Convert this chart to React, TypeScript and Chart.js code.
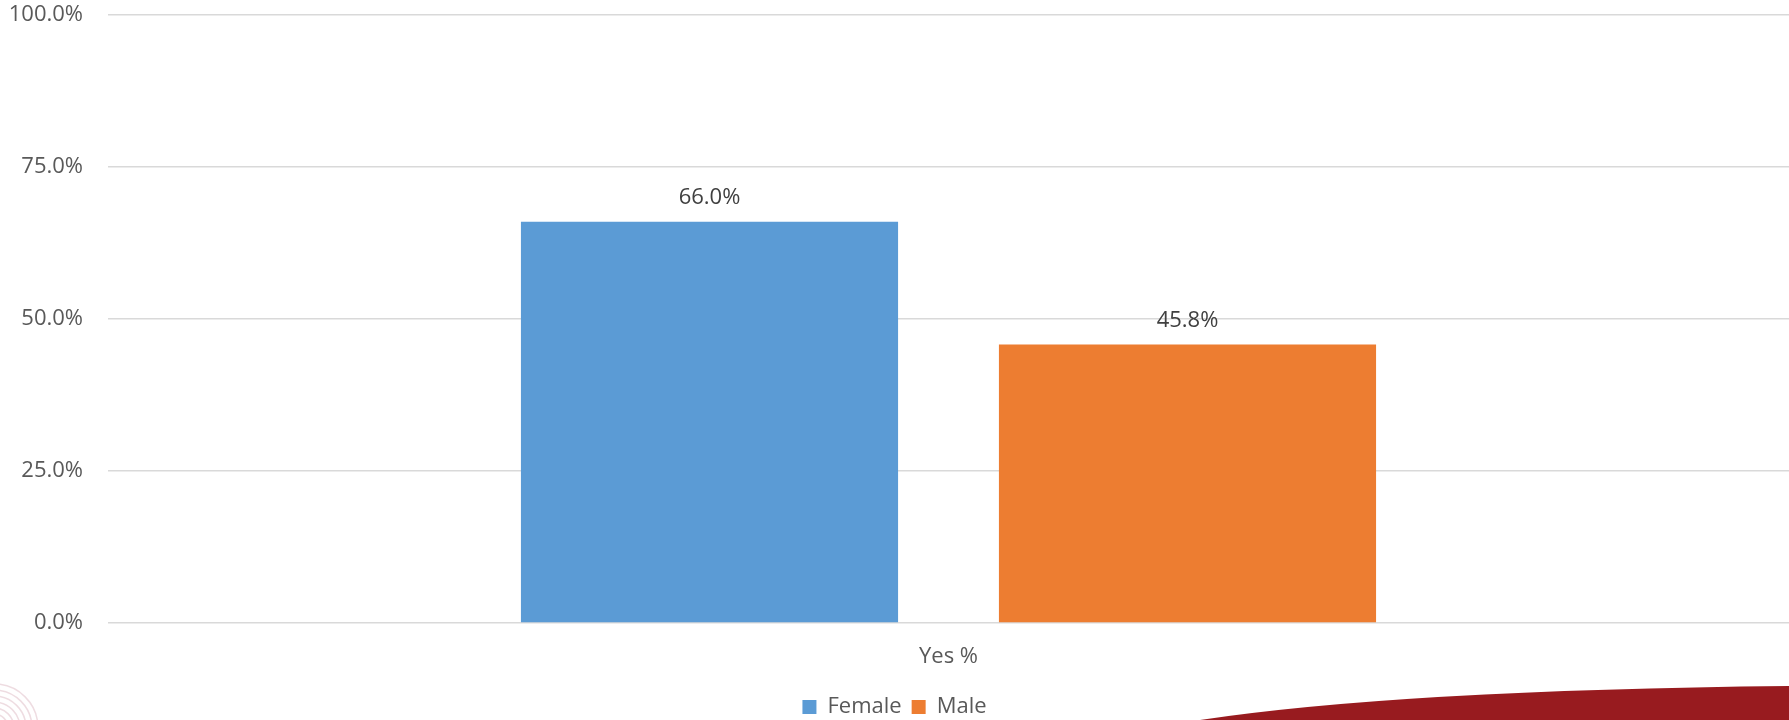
import React, { useEffect, useRef } from "react";
import { Chart, registerables } from "chart.js";

Chart.register(...registerables);

const categories = ["Yes %"];
const seriesNames = ["Female", "Male"];
const femaleValues = [0.66];
const maleValues = [0.458];
const seriesColors = ["#5B9BD5", "#ED7D31"];
const yTicks = [0, 0.25, 0.5, 0.75, 1];

const FONT = "'Open Sans', sans-serif";

const fmtPct = (v: number) => (v * 100).toFixed(1) + "%";

const dataLabelPlugin = {
  id: "dataLabels",
  afterDatasetsDraw(chart: any) {
    const ctx = chart.ctx;
    ctx.save();
    ctx.font = `22px ${FONT}`;
    ctx.fillStyle = "#404040";
    ctx.textAlign = "center";
    ctx.textBaseline = "middle";
    chart.data.datasets.forEach((ds: any, i: number) => {
      const meta = chart.getDatasetMeta(i);
      meta.data.forEach((bar: any, j: number) => {
        ctx.fillText(fmtPct(ds.data[j]), bar.x, bar.y - 24);
      });
    });
    ctx.restore();
  },
};

const decorPlugin = {
  id: "decor",
  beforeDraw(chart: any) {
    const ctx = chart.ctx;
    const w = chart.width;
    const h = chart.height;
    ctx.save();
    ctx.fillStyle = "#FFFFFF";
    ctx.fillRect(0, 0, w, h);
    // red swoosh bottom right
    ctx.fillStyle = "#981B1F";
    ctx.beginPath();
    ctx.moveTo(1200, h);
    ctx.quadraticCurveTo(1400, 690, w, 686);
    ctx.lineTo(w, h);
    ctx.closePath();
    ctx.fill();
    // faint circles bottom left
    ctx.strokeStyle = "rgba(200,140,155,0.3)";
    ctx.lineWidth = 1.5;
    for (let r = 14; r <= 44; r += 6) {
      ctx.beginPath();
      ctx.arc(-6, h + 8, r, 0, Math.PI * 2);
      ctx.stroke();
    }
    ctx.restore();
  },
};

function App() {
  const canvasRef = useRef<HTMLCanvasElement | null>(null);

  useEffect(() => {
    if (!canvasRef.current) return;
    const chart = new Chart(canvasRef.current, {
      type: "bar",
      data: {
        labels: categories,
        datasets: [
          {
            label: seriesNames[0],
            data: femaleValues,
            backgroundColor: seriesColors[0],
            categoryPercentage: 0.5687,
            barPercentage: 0.789,
          },
          {
            label: seriesNames[1],
            data: maleValues,
            backgroundColor: seriesColors[1],
            categoryPercentage: 0.5687,
            barPercentage: 0.789,
          },
        ],
      },
      options: {
        animation: false,
        responsive: false,
        maintainAspectRatio: false,
        layout: { padding: { top: 0, right: 0, left: 0, bottom: -8 } },
        plugins: {
          tooltip: { enabled: false },
          legend: {
            position: "bottom",
            labels: {
              boxWidth: 14,
              boxHeight: 14,
              color: "#595959",
              font: { family: FONT, size: 22 },
              padding: 10,
            },
          },
        },
        scales: {
          x: {
            afterFit: (scale: any) => {
              scale.height = 63;
            },
            grid: { display: false, drawTicks: false },
            border: { display: false },
            ticks: {
              color: "#595959",
              font: { family: FONT, size: 22 },
              padding: 21,
            },
          },
          y: {
            min: 0,
            max: 1,
            afterFit: (scale: any) => {
              scale.width = 108;
              scale.paddingTop = 15;
              scale.paddingBottom = 0;
            },
            afterBuildTicks: (scale: any) => {
              scale.ticks = yTicks.map((v) => ({ value: v }));
            },
            grid: { color: "#D9D9D9", lineWidth: 1.5, drawTicks: false },
            border: { display: false },
            ticks: {
              color: "#595959",
              font: { family: FONT, size: 22 },
              padding: 25,
              callback: (v: any) => fmtPct(Number(v)),
            },
          },
        },
      },
      plugins: [decorPlugin, dataLabelPlugin],
    });
    return () => chart.destroy();
  }, []);

  return (
    <div style={{ position: "fixed", left: 0, top: 0, width: 1789, height: 720, background: "#fff" }}>
      <canvas ref={canvasRef} width={1789} height={720} style={{ width: 1789, height: 720, display: "block" }} />
    </div>
  );
}

export default App;
